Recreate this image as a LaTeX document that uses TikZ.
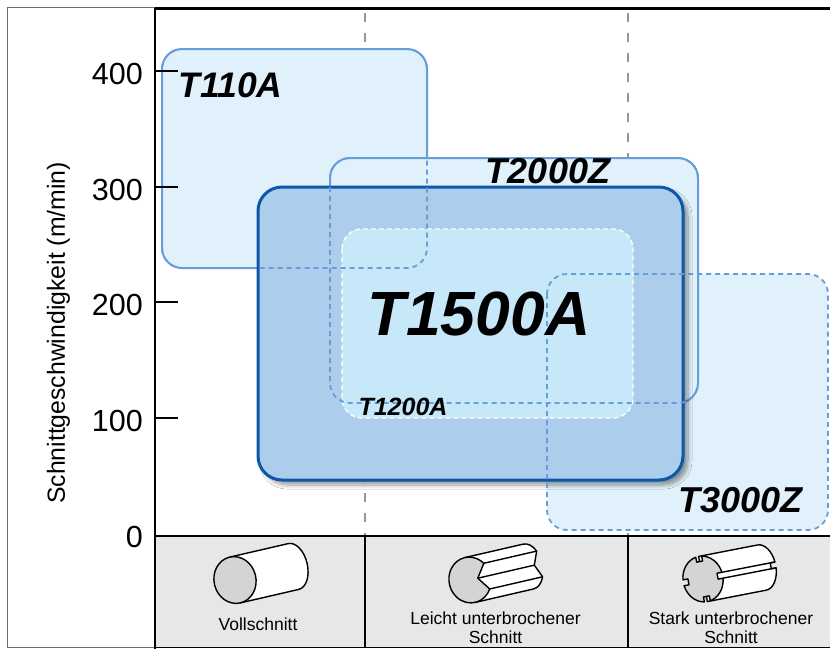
\documentclass[tikz,border=0pt]{standalone}
\usepackage{fontspec}
\setmainfont{Liberation Sans}
\usetikzlibrary{shadows.blur}
\definecolor{lightfill}{RGB}{224,241,251}
\definecolor{lightedge}{RGB}{104,158,216}
\definecolor{midfill}{RGB}{173,205,236}
\definecolor{darkedge}{RGB}{14,86,168}
\definecolor{innerfill}{RGB}{199,232,248}
\definecolor{bandgray}{RGB}{230,231,233}
\definecolor{facegray}{RGB}{212,212,212}
\definecolor{guidegray}{RGB}{150,150,150}
\definecolor{framegray}{RGB}{110,110,110}
\begin{document}
\begin{tikzpicture}[x=1pt,y=-1pt,
  lbox/.style={fill=lightfill, draw=lightedge, line width=2pt, rounded corners=20pt},
  hiddenedge/.style={draw=lightedge, line width=1.8pt, dash pattern=on 5pt off 4pt, rounded corners=20pt},
  guide/.style={draw=guidegray, line width=1.5pt, dash pattern=on 9pt off 11pt},
  axisline/.style={draw=black, line width=2.5pt},
  ticklbl/.style={font=\fontsize{30.5}{30.5}\selectfont, inner sep=0pt, anchor=east},
  boxlbl/.style={inner sep=0pt, anchor=center},
  caption/.style={font=\fontsize{17.5}{19}\selectfont, inner sep=0pt, align=center, anchor=center},
  iconline/.style={draw=black, line width=1.4pt, line join=round},
]
\useasboundingbox (0,0) rectangle (830,649);
\fill[white] (0,0) rectangle (830,649);

% vertical guide lines
\coordinate (g1t) at (365,13); \coordinate (g1b) at (365,536);
\coordinate (g2t) at (628,13); \coordinate (g2b) at (628,536);
\draw[guide] (g1t) -- (g1b);
\draw[guide] (g2t) -- (g2b);

% T110A
\path[lbox] (162,49) rectangle (427,268);
% T3000Z fill
\path[fill=lightfill, rounded corners=20pt] (547,274) rectangle (828,530);
% T2000Z
\path[lbox] (330,158) rectangle (698,403);
% T1500A
\path[fill=midfill, draw=darkedge, line width=3pt, rounded corners=24pt,
  blur shadow={shadow xshift=5pt, shadow yshift=-5pt, shadow blur radius=4pt, shadow blur steps=8, shadow opacity=40}]
  (258,187) rectangle (683,480);
% T1200A
\path[fill=innerfill, draw=white, line width=1.3pt, dash pattern=on 5pt off 3pt, rounded corners=20pt]
  (342,229) rectangle (633,418);
% hidden outlines
\path[hiddenedge] (162,49) rectangle (427,268);
\path[hiddenedge] (330,158) rectangle (698,403);
\path[hiddenedge] (547,274) rectangle (828,530);

% box labels
\node[boxlbl, font=\bfseries\itshape\fontsize{35.5}{35.5}\selectfont] (l110) at (230.5,85) {T110A};
\node[boxlbl, font=\bfseries\itshape\fontsize{36}{36}\selectfont] (l2000) at (548,171.5) {T2000Z};
\node[boxlbl, font=\bfseries\itshape\fontsize{62.5}{62.5}\selectfont] (l1500) at (479,314) {T1500A};
\node[boxlbl, font=\bfseries\itshape\fontsize{25}{25}\selectfont] (l1200) at (403,407) {T1200A};
\node[boxlbl, font=\bfseries\itshape\fontsize{36}{36}\selectfont] (l3000) at (740.5,500) {T3000Z};

% bottom band
\fill[bandgray] (155,536) rectangle (830,647);
\coordinate (s1t) at (365,536); \coordinate (s1b) at (365,647);
\coordinate (s2t) at (628,536); \coordinate (s2b) at (628,647);
\draw[black, line width=1.5pt] (s1t) -- (s1b);
\draw[black, line width=1.5pt] (s2t) -- (s2b);

% outer frame
\draw[framegray, line width=0.8pt] (7,7) rectangle (831,647.5);
\coordinate (btl) at (155,647.5); \coordinate (btr) at (831,647.5);
\draw[black, line width=1.5pt] (btl) -- (btr);
% axes
\coordinate (ytop) at (155,8); \coordinate (ybot) at (155,649);
\coordinate (xl) at (155,536); \coordinate (xr) at (831,536);
\coordinate (topr) at (831,8);
\draw[black, line width=3pt] (ytop) -- (topr);
\draw[axisline] (ytop) -- (ybot);
\draw[axisline] (xl) -- (xr);

% ticks
\foreach \v/\yy in {400/71,300/187,200/302,100/418}{
  \coordinate (ta\v) at (155,\yy); \coordinate (tb\v) at (178,\yy);
  \draw[black, line width=2pt] (ta\v) -- (tb\v);
  \node[ticklbl] (t\v) at (143,\yy+3) {\v};
}
\node[ticklbl] (t0) at (143,537) {0};

% axis title
\node[rotate=90, inner sep=0pt, font=\fontsize{24.8}{24.8}\selectfont] (ytitle) at (58.5,333) {Schnittgeschwindigkeit (m/min)};

% icon 1: full cylinder
\begin{scope}[shift={(235,580)}, x=1pt, y=1pt, rotate=13]
  \path[iconline, fill=white] (0,23.5) -- (60,23.5) arc[start angle=90, end angle=-90, x radius=14, y radius=23.5] -- (0,-23.5) -- cycle;
  \path[iconline, fill=facegray] (0,0) ellipse[x radius=21, y radius=23.5];
\end{scope}

% icon 2: lightly interrupted (V groove)
\begin{scope}[shift={(470,580)}, x=1pt, y=1pt, rotate=13]
  \path[iconline, fill=white] (0,23) -- (60,23) arc[start angle=90, end angle=35, x radius=14, y radius=23]
     -- (66,0) -- (71.47,-13.19) arc[start angle=-35, end angle=-90, x radius=14, y radius=23] -- (0,-23) -- cycle;
  \draw[iconline] (17.2,13.19) -- (71.47,13.19);
  \draw[iconline] (8,0) -- (66,0);
  \draw[iconline] (17.2,-13.19) -- (71.47,-13.19);
  \path[iconline, fill=facegray] (17.2,13.19) arc[start angle=35, end angle=325, x radius=21, y radius=23] -- (8,0) -- cycle;
\end{scope}

% icon 3: strongly interrupted (four slots)
\begin{scope}[shift={(703,579)}, x=1pt, y=1pt, rotate=11]
  \path[iconline, fill=white] (0,23) -- (60,23) arc[start angle=90, end angle=7.49, x radius=14, y radius=23]
     -- (69,3) -- (69,-3) -- (73.88,-3) arc[start angle=-7.49, end angle=-90, x radius=14, y radius=23] -- (0,-23) -- cycle;
  \draw[iconline] (19.83,3) -- (73.88,3);
  \draw[iconline] (19.83,-3) -- (73.88,-3);
  \path[iconline, fill=facegray]
    (19.83,3) arc[start angle=7.49, end angle=81.37, x radius=20, y radius=23]
    -- (3,17.74) -- (-3,17.74) -- (-3,22.74)
    arc[start angle=98.63, end angle=172.51, x radius=20, y radius=23]
    -- (-14.83,3) -- (-14.83,-3) -- (-19.83,-3)
    arc[start angle=187.49, end angle=261.37, x radius=20, y radius=23]
    -- (-3,-17.74) -- (3,-17.74) -- (3,-22.74)
    arc[start angle=278.63, end angle=352.51, x radius=20, y radius=23]
    -- (14.83,-3) -- (14.83,3) -- cycle;
\end{scope}

% captions
\node[caption] (c1) at (258,624.5) {Vollschnitt};
\node[caption] (c2) at (495.5,627.5) {Leicht unterbrochener\\Schnitt};
\node[caption] (c3) at (731,627.5) {Stark unterbrochener\\Schnitt};
\end{tikzpicture}
\end{document}
